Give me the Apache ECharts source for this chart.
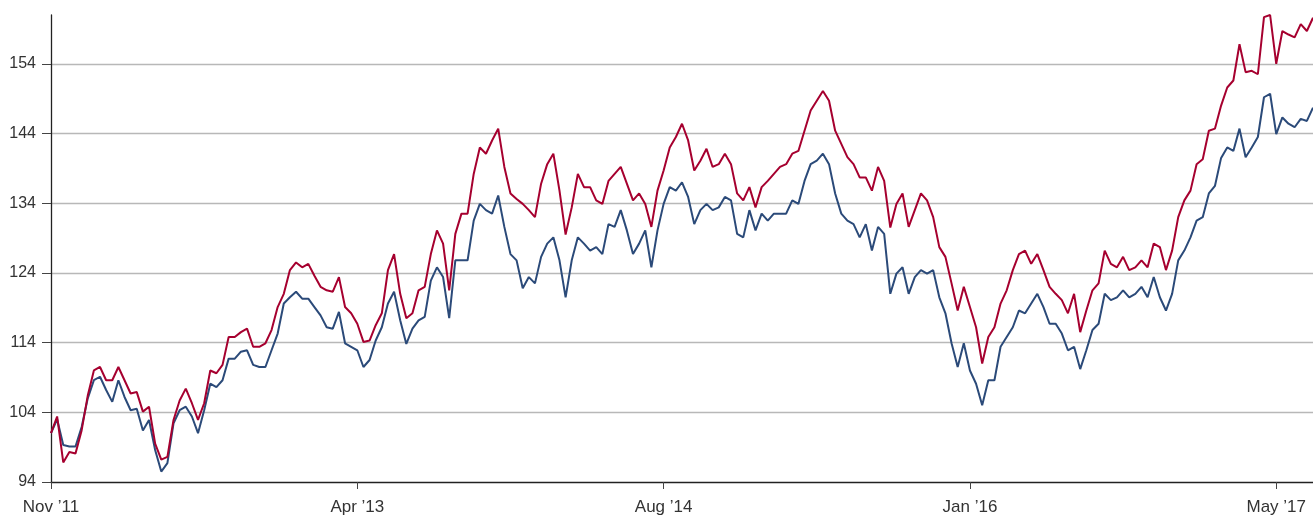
<!DOCTYPE html>
<html>
<head>
<meta charset="utf-8">
<script src="https://cdn.jsdelivr.net/npm/echarts@6/dist/echarts.min.js"></script>
<style>
html,body{margin:0;padding:0;background:#fff;}
#c{width:1313px;height:518px;}
</style>
</head>
<body>
<div id="c"></div>
<script>
var tickLabels = ["Nov \u201911", "Apr \u201913", "Aug \u201914", "Jan \u201916", "May \u201917"];
var labelEvery = 50;

var redSeries = [
101.0,103.4,96.8,98.3,98.1,101.4,106.4,110.0,110.5,108.6,
108.6,110.5,108.6,106.7,106.9,104.1,104.8,99.5,97.2,97.6,
102.9,105.7,107.4,105.3,102.9,105.3,110.0,109.6,110.8,114.8,
114.8,115.5,116.0,113.4,113.4,113.9,115.8,119.1,121.0,124.4,
125.5,124.8,125.3,123.6,122.0,121.5,121.3,123.4,119.1,118.2,
116.7,114.1,114.3,116.5,118.2,124.4,126.7,121.0,117.5,118.2,
121.5,122.0,126.7,130.1,128.2,121.5,129.6,132.5,132.5,138.2,
142.0,141.1,143.0,144.7,139.2,135.4,134.6,133.9,133.0,132.0,
136.8,139.6,141.1,135.8,129.5,133.4,138.2,136.3,136.3,134.4,
133.9,137.2,138.2,139.2,136.8,134.4,135.4,133.9,130.6,135.8,
138.7,142.0,143.5,145.4,143.0,138.7,140.1,141.8,139.2,139.6,
141.1,139.6,135.4,134.4,136.3,133.4,136.3,137.2,138.2,139.2,
139.6,141.1,141.5,144.4,147.3,148.7,150.1,148.7,144.4,142.5,
140.6,139.6,137.7,137.7,135.8,139.2,137.2,130.5,133.9,135.4,
130.6,133.0,135.4,134.4,132.0,127.7,126.3,122.5,118.6,122.0,
119.1,116.2,111.0,114.8,116.2,119.6,121.5,124.4,126.7,127.2,
125.3,126.7,124.4,122.0,121.0,120.1,118.2,121.0,115.5,118.6,
121.5,122.5,127.2,125.3,124.8,126.3,124.4,124.8,125.8,124.8,
128.2,127.7,124.4,127.2,132.0,134.4,135.8,139.6,140.3,144.4,
144.7,148.0,150.6,151.6,156.8,152.8,153.0,152.5,160.7,161.0,
154.0,158.7,158.2,157.8,159.7,158.7,160.6
];

var blueSeries = [
101.0,103.0,99.3,99.1,99.1,101.9,106.0,108.6,109.1,107.2,
105.5,108.6,106.2,104.3,104.5,101.4,102.9,98.6,95.5,96.7,
102.4,104.3,104.8,103.4,101.0,104.3,108.1,107.6,108.6,111.7,
111.7,112.7,112.9,110.8,110.5,110.5,112.9,115.3,119.6,120.5,
121.3,120.3,120.3,119.1,117.9,116.2,116.0,118.4,113.9,113.4,
112.9,110.5,111.5,114.3,116.2,119.6,121.3,117.2,113.8,116.0,
117.2,117.7,122.9,124.8,123.4,117.5,125.8,125.8,125.8,131.5,
133.9,133.0,132.5,135.1,130.6,126.7,125.8,121.8,123.4,122.5,
126.3,128.2,129.1,125.8,120.5,125.8,129.1,128.2,127.2,127.7,
126.7,131.0,130.6,133.0,130.1,126.7,128.2,130.1,124.8,130.1,
133.9,136.3,135.8,137.0,134.9,131.0,133.0,133.9,133.0,133.4,
134.9,134.4,129.6,129.1,133.0,130.1,132.5,131.5,132.5,132.5,
132.5,134.4,133.9,137.2,139.6,140.1,141.1,139.6,135.4,132.5,
131.5,131.0,129.1,131.0,127.2,130.6,129.6,121.0,123.9,124.8,
121.0,123.4,124.4,123.9,124.4,120.5,118.2,113.9,110.5,113.9,
110.0,108.1,105.0,108.6,108.6,113.4,114.8,116.2,118.6,118.2,
119.6,121.0,119.1,116.7,116.7,115.3,112.9,113.4,110.2,112.9,
115.8,116.7,121.0,120.1,120.5,121.5,120.5,121.0,122.0,120.5,
123.4,120.5,118.6,121.0,125.8,127.2,129.1,131.5,132.0,135.4,
136.5,140.5,142.0,141.5,144.7,140.6,142.0,143.5,149.2,149.7,
143.9,146.3,145.4,144.9,146.1,145.8,147.7
];

var yMin = 94, yMax = 161, yStep = 10;

var categories = redSeries.map(function (v, i) { return String(i); });

var FONT = "'Liberation Sans', Arial, sans-serif";

var chart = echarts.init(document.getElementById('c'), null, {renderer: 'canvas'});
chart.setOption({
  animation: false,
  backgroundColor: '#ffffff',
  grid: {left: 51, right: 0, top: 15, bottom: 36, containLabel: false},
  xAxis: {
    type: 'category',
    data: categories,
    boundaryGap: false,
    axisLine: {show: true, lineStyle: {color: '#222', width: 1.3}},
    axisTick: {
      show: true, length: 7,
      interval: function (i) { return i % labelEvery === 0; },
      lineStyle: {color: '#444', width: 1}
    },
    axisLabel: {
      show: true,
      interval: function (i) { return i % labelEvery === 0; },
      formatter: function (v, i) { return tickLabels[Math.round(i / labelEvery)] || ''; },
      color: '#333', fontSize: 17, fontFamily: FONT, margin: 17
    },
    splitLine: {show: false}
  },
  yAxis: {
    type: 'value',
    min: yMin, max: yMax, interval: yStep,
    axisLine: {show: true, lineStyle: {color: '#222', width: 1.3}},
    axisTick: {show: true, length: 9, lineStyle: {color: '#444', width: 1}},
    axisLabel: {
      color: '#333', fontSize: 16, fontFamily: FONT, margin: 15,
      showMaxLabel: false,
      formatter: function (v) { return (v - yMin) % yStep === 0 ? String(v) : ''; }
    },
    splitLine: {show: true, showMinLine: false, showMaxLine: false, lineStyle: {color: '#b8b8b8', width: 1.3}}
  },
  series: [
    {
      name: 'blue', type: 'line', data: blueSeries, showSymbol: false, symbol: 'none',
      clip: false,
      lineStyle: {color: '#2b4a79', width: 2}
    },
    {
      name: 'red', type: 'line', data: redSeries, showSymbol: false, symbol: 'none',
      clip: false,
      lineStyle: {color: '#a6002f', width: 2}
    }
  ]
});
</script>
</body>
</html>
